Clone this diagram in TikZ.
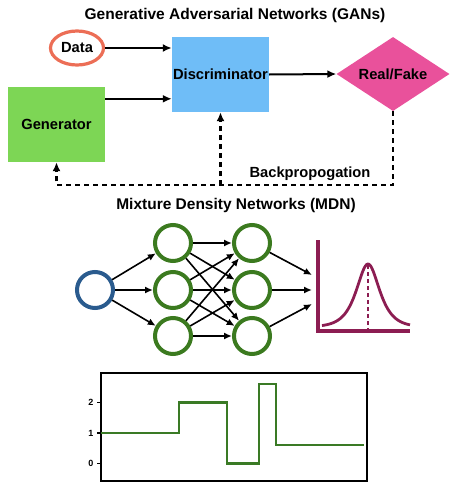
\documentclass[tikz,border=0pt]{standalone}
\usepackage{fontspec}
\setmainfont{Liberation Sans}
\usetikzlibrary{arrows.meta,shapes.geometric}
\definecolor{datared}{HTML}{EC6E56}
\definecolor{discblue}{HTML}{6FBDF7}
\definecolor{gengreen}{HTML}{7DD655}
\definecolor{rfpink}{HTML}{E9519B}
\definecolor{inblue}{HTML}{2A5B8E}
\definecolor{netgreen}{HTML}{3B7A1F}
\definecolor{maroon}{HTML}{8C1D52}
\definecolor{stepgreen}{HTML}{3A7A25}
\begin{document}
\begin{tikzpicture}[x=1pt,y=-1pt,>={Latex[length=9pt,width=8pt]},every node/.style={font=\fontsize{14.7}{17}\selectfont\bfseries},
	box/.style={minimum width=97pt,minimum height=75pt,inner sep=0pt},
	neuron/.style={circle,draw=netgreen,line width=4pt,minimum size=36pt,inner sep=0pt},
	link/.style={->,line width=1.6pt,>={Latex[length=8pt,width=7pt]}},
	bprop/.style={line width=2.2pt,dash pattern=on 5pt off 4pt}]
	\useasboundingbox(0,0)rectangle(450,482);
	%GANs
	\node(gantitle)at(235,15){\fontsize{15.5}{18}\selectfont Generative Adversarial Networks (GANs)};
	\node[ellipse,draw=datared,line width=3.2pt,minimum width=53pt,minimum height=34pt,inner sep=0pt](data)at(77,48){Data};
	\node[box,fill=discblue](disc)at(220.5,74.5){Discriminator};
	\node[box,fill=gengreen](gen)at(56.5,124.5){Generator};
	\node[diamond,fill=rfpink,aspect=1.53,minimum width=113pt,minimum height=74pt,inner sep=0pt](rf)at(393,74){Real/Fake};
	\draw[->,line width=2pt](data.east)--(data.east-|disc.west);
	\draw[->,line width=2pt]([yshift=-12pt]gen.north east)--([yshift=-12pt]gen.north east-|disc.west);
	\draw[->,line width=2pt](disc.east)--(rf.west);
	\coordinate(base)at(0,185);
	\draw[bprop,->](rf.south)--(rf.south|-base)--(gen.south|-base)--(gen.south);
	\draw[bprop,->](disc.south|-base)--(disc.south);
	\node(backlbl)at(310,174){Backpropogation};
	%MDN
	\node(mdntitle)at(236,205){\fontsize{15.5}{18}\selectfont Mixture Density Networks (MDN)};
	\node[neuron,draw=inblue](in)at(95,290){};
	\foreach\i/\y in{1/243,2/290,3/336}{\node[neuron](a\i)at(173,\y){};\node[neuron](b\i)at(252,\y){};}
	\foreach\i in{1,2,3}{\draw[link](in)--(a\i);\foreach\j in{1,2,3}{\draw[link](a\i)--(b\j);}}
	\foreach\i/\y in{1/275,2/290,3/304}{\coordinate(o\i)at(312,\y);\draw[link](b\i)--(o\i);}
	\coordinate(axtop)at(318,240);
	\coordinate(orig)at(318,331);
	\coordinate(axend)at(410,331);
	\coordinate(peak)at(368,265);
	\draw[maroon,line width=3.2pt](axtop)--(orig)--(axend);
	\draw[maroon,line width=2.8pt]plot[samples=80,domain=322:410]({\x},{327-63/cosh((\x-368)/10.3)});
	\draw[maroon,line width=2.4pt,dash pattern=on 4pt off 3pt](peak)--(peak|-orig);
	%step plot
	\coordinate(pSW)at(101,481);
	\coordinate(pNE)at(367,373);
	\draw[line width=1.4pt](pSW)rectangle(pNE);
	\foreach\v/\y in{0/463.5,1/433,2/402.5}{\draw[line width=1.2pt](97,\y)--(101,\y);\node[font=\fontsize{9}{10}\selectfont\bfseries](t\v)at(91,\y){\v};}
	\draw[stepgreen,line width=2.8pt](101,433)-|(179,402.5)-|(227,463.5)-|(259,384)-|(276,445)--(364,445);
\end{tikzpicture}
\end{document}
